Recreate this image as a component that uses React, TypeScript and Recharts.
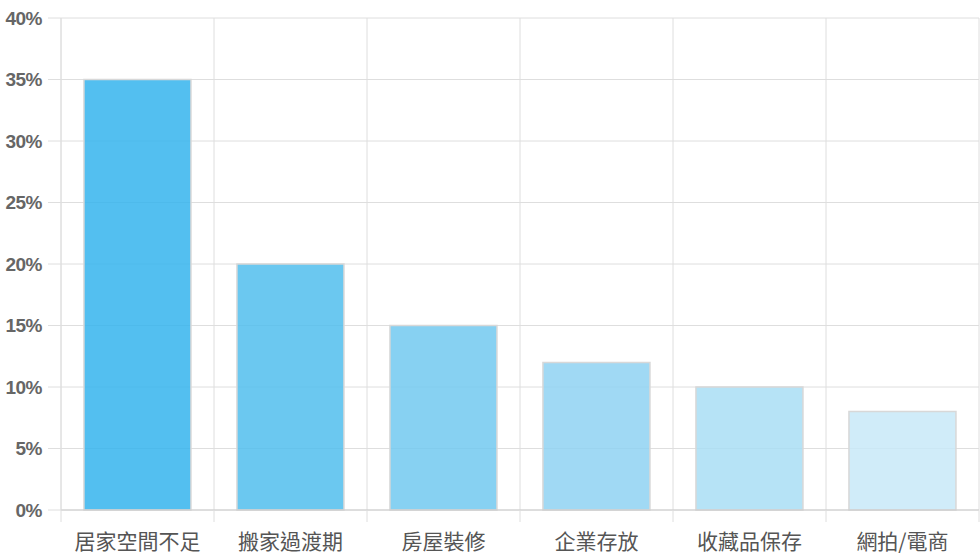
import React from 'react';
import { Bar, BarChart, CartesianGrid, Cell, XAxis, YAxis } from 'recharts';

const categories = ['居家空間不足', '搬家過渡期', '房屋裝修', '企業存放', '收藏品保存', '網拍/電商'];
const shares = [35, 20, 15, 12, 10, 8];
const barColors = ['#35B4ED', '#51BEED', '#72C9F0', '#8FD2F2', '#A9DEF4', '#C8E9F8'];
const yTicks = [0, 5, 10, 15, 20, 25, 30, 35, 40];

const data = categories.map((name, i) => ({ name, value: shares[i] }));

const W = 980;
const H = 560;
const LEFT = 61;
const plotW = W - LEFT - 1;
const band = plotW / categories.length;

// x labels plus tick marks on the band edges (chart.js style)
const XTick = (props: any) => {
    const { x, y, payload, index } = props;
    const half = band / 2;
    return (
        <g>
            <line x1={x - half} x2={x - half} y1={y} y2={y + 12} stroke="#dedede" />
            {index === categories.length - 1 && (
                <line x1={x + half} x2={x + half} y1={y} y2={y + 12} stroke="#dedede" />
            )}
            <text
                x={x}
                y={y + 39}
                textAnchor="middle"
                fill="#555"
                fontSize={21}
                fontFamily="'Noto Sans CJK TC', sans-serif"
            >
                {payload.value}
            </text>
        </g>
    );
};

export default function App() {
    return (
        <div style={{ position: 'absolute', left: 0, top: 0, width: W, height: H, background: '#fff' }}>
            <BarChart
                width={W}
                height={H}
                data={data}
                margin={{ top: 18, right: 1, bottom: 0, left: 0 }}
                barCategoryGap="15%"
            >
                <CartesianGrid
                    stroke="#dedede"
                    horizontalValues={yTicks}
                    verticalCoordinatesGenerator={({ offset }: any) =>
                        categories.map((_, i) => offset.left + (i * offset.width) / categories.length).concat([offset.left + offset.width])
                    }
                />
                <XAxis
                    dataKey="name"
                    height={50}
                    tickLine={false}
                    tickSize={0}
                    tickMargin={0}
                    axisLine={{ stroke: '#cccccc' }}
                    tick={<XTick />}
                    interval={0}
                />
                <YAxis
                    width={LEFT}
                    domain={[0, 40]}
                    ticks={yTicks}
                    tickFormatter={(v: number) => `${v}%`}
                    tickSize={13}
                    tickMargin={6}
                    tickLine={{ stroke: '#dedede' }}
                    axisLine={{ stroke: '#dedede' }}
                    tick={{ fill: '#666', fontSize: 19, fontWeight: 'bold', fontFamily: "'Liberation Sans', Arial, sans-serif", letterSpacing: -0.5 }}
                />
                <Bar dataKey="value" isAnimationActive={false} stroke="#d8d8d8" strokeWidth={1.5} fillOpacity={0.85}>
                    {data.map((d, i) => (
                        <Cell key={d.name} fill={barColors[i]} />
                    ))}
                </Bar>
            </BarChart>
        </div>
    );
}
